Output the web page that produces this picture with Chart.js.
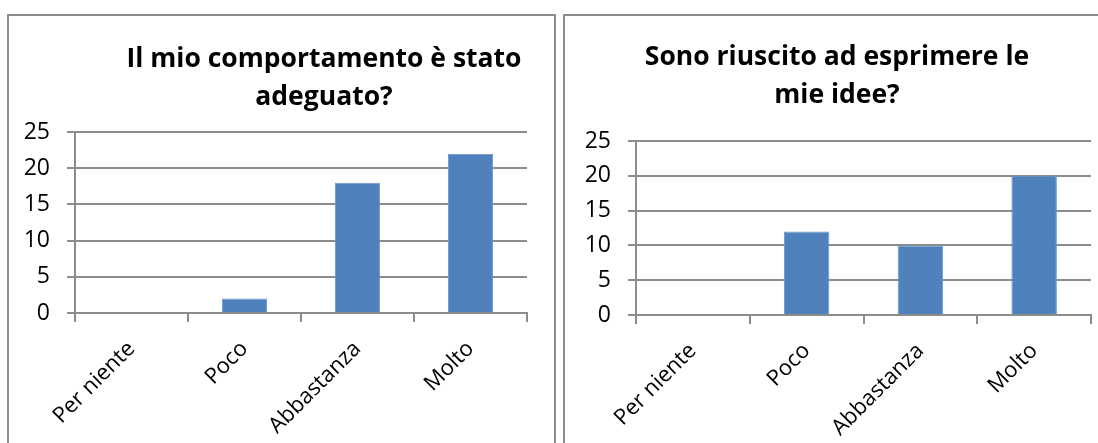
<!DOCTYPE html>
<html>
<head>
<meta charset="utf-8">
<script src="https://cdn.jsdelivr.net/npm/chart.js@4"></script>
<style>
  html, body { margin: 0; padding: 0; background: #fff; width: 1098px; height: 443px; overflow: hidden; }
  .frame { position: absolute; border: 2px solid #8c8c8c; box-sizing: border-box; background: #fff; }
  canvas { position: absolute; top: 0; z-index: 2; }
</style>
</head>
<body>
<div class="frame" style="left:7px; top:14px; width:549px; height:460px;"></div>
<div class="frame" style="left:563px; top:14px; width:600px; height:460px;"></div>
<canvas id="c1" width="560" height="443" style="left:0"></canvas>
<canvas id="c2" width="538" height="443" style="left:560px"></canvas>
<script>
// Survey answers
const categories = ['Per niente', 'Poco', 'Abbastanza', 'Molto'];
const behaviourValues = [0, 2, 18, 22];
const expressionValues = [0, 12, 10, 20];
const behaviourTitle = ['Il mio comportamento è stato', 'adeguato?'];
const expressionTitle = ['Sono riuscito ad esprimere le', 'mie idee?'];
const yMin = 0, yMax = 25, yStep = 5;

const FONT = "'Open Sans', 'Liberation Sans', sans-serif";

// Two-line title drawn at a chosen horizontal centre
const titlePlugin = {
  id: 'offsetTitle',
  afterDraw(chart, args, opts) {
    const ctx = chart.ctx;
    ctx.save();
    ctx.fillStyle = '#000';
    ctx.font = 'bold ' + opts.size + 'px ' + FONT;
    ctx.textAlign = 'center';
    ctx.textBaseline = 'alphabetic';
    opts.lines.forEach((line, i) => {
      ctx.fillText(line, opts.x, opts.baseline + i * opts.lineGap);
    });
    ctx.restore();
  }
};

function makeChart(id, values, title, geo) {
  const canvas = document.getElementById(id);
  return new Chart(canvas, {
    type: 'bar',
    data: {
      labels: categories,
      datasets: [{
        data: values,
        backgroundColor: '#4f81bd',
        borderColor: '#6b97cc',
        borderWidth: 1,
        categoryPercentage: 1.0,
        barPercentage: 0.4
      }]
    },
    plugins: [titlePlugin],
    options: {
      responsive: false,
      animation: false,
      events: [],
      layout: {
        padding: { left: 0, top: geo.top, right: canvas.width - geo.right, bottom: 0 }
      },
      plugins: {
        legend: { display: false },
        title: { display: false },
        tooltip: { enabled: false },
        offsetTitle: { lines: title, x: geo.titleX, baseline: geo.titleBase, lineGap: 38, size: 26.5 }
      },
      scales: {
        x: {
          offset: true,
          afterFit(s) { s.height = canvas.height - geo.bottom; },
          grid: { offset: true, drawOnChartArea: false, color: '#8c8c8c', lineWidth: 2, tickLength: 9 },
          border: { color: '#8c8c8c', width: 2 },
          ticks: { color: '#000', font: { family: FONT, size: 22 }, minRotation: 45, maxRotation: 45, padding: 14 }
        },
        y: {
          min: yMin, max: yMax,
          afterFit(s) { s.width = geo.left; },
          grid: { color: '#8c8c8c', lineWidth: 2, tickLength: 8 },
          border: { color: '#8c8c8c', width: 2 },
          ticks: { stepSize: yStep, color: '#000', font: { family: FONT, size: 23 }, padding: 17 }
        }
      }
    }
  });
}

makeChart('c1', behaviourValues, behaviourTitle,
  { left: 75, right: 527, top: 132, bottom: 313, titleX: 324, titleBase: 67 });
makeChart('c2', expressionValues, expressionTitle,
  { left: 76, right: 531, top: 141, bottom: 315, titleX: 277, titleBase: 65 });
</script>
</body>
</html>
